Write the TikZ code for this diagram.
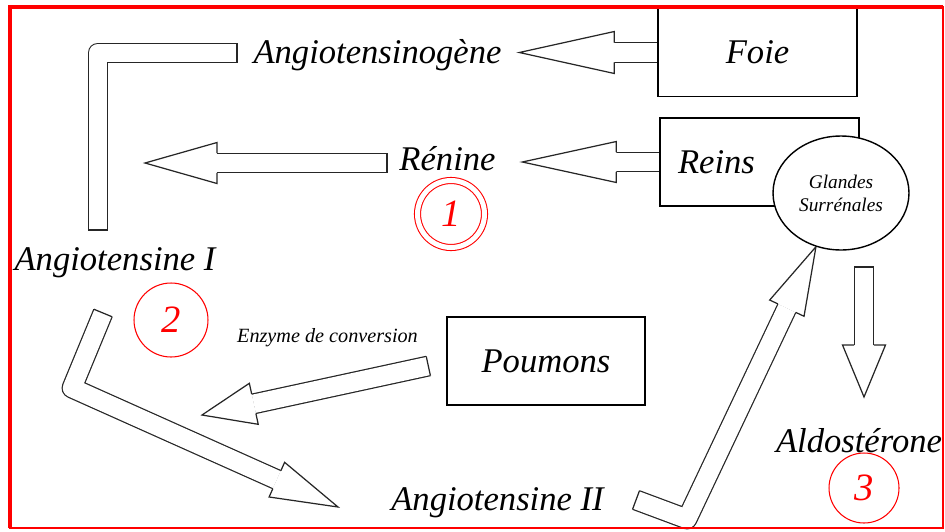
\documentclass[tikz,border=0pt]{standalone}
\usepackage{fontspec}
\setmainfont{Liberation Serif}
\usepackage{tikz}
\usetikzlibrary{calc,positioning,shapes.geometric,backgrounds}
\newcommand{\tubecolor}{black!85}
\newcommand{\thickness}{0.7pt}
\newcommand{\tubewidth}{0.37cm}
\newcommand{\halftube}{0.197cm}
\newcommand{\tubecap}[2]{\draw[tubeline] ($(#1)!\halftube!90:(#2)$) -- ($(#1)!\halftube!-90:(#2)$);}
\newcommand{\tubehead}[3]{\filldraw[tubeline, fill=white] ($(#1)!\halftube!90:(#2)$) -- ($(#1)!#3!90:(#2)$) -- (#2) -- ($(#1)!#3!-90:(#2)$) -- ($(#1)!\halftube!-90:(#2)$);}

\begin{document}
\begin{tikzpicture}[x=0.02cm, y=-0.02cm,
  molecule/.style={font=\fontsize{19.7}{23}\selectfont\itshape, inner sep=0pt, anchor=base},
  note/.style={font=\fontsize{11.5}{13}\selectfont\itshape, inner sep=0pt, anchor=base},
  organ/.style={draw, line width=0.8pt, minimum width=3.98cm, minimum height=1.76cm, inner sep=0pt, font=\fontsize{19.7}{23}\selectfont\itshape},
  stage/.style={circle, draw=red, line width=0.6pt, text=red, inner sep=0pt, font=\fontsize{22}{24}\selectfont\itshape},
  tube/.style={draw=\tubecolor, line width=\thickness, double=white, double distance=\tubewidth, line join=round},
  tubeline/.style={draw=\tubecolor, line width=\thickness, line join=miter},
  frame/.style={draw=red}]
\useasboundingbox (0,0) rectangle (945,531);
% organes
\node[organ] (foie) at (757.5,52.5) {Foie};
\node[organ, text width=3.26cm, align=left, inner xsep=0.36cm] (reins) at (759.5,162) {Reins};
\node[organ, minimum width=3.96cm] (poumons) at (546,361) {Poumons};
\node[ellipse, draw, line width=0.8pt, fill=white, minimum width=2.72cm, minimum height=2.28cm, inner sep=0pt, align=center, font=\fontsize{11}{13}\selectfont\itshape] (glandes) at (841,193) {Glandes\\Surrénales};
% molecules
\node[molecule] (agn) at (377.5,63) {Angiotensinogène};
\node[molecule] (renine) at (447.5,170) {Rénine};
\node[molecule] (ang1) at (115,270) {Angiotensine I};
\node[molecule] (ang2) at (497.5,510) {Angiotensine II};
\node[molecule] (aldo) at (859,452) {Aldostérone};
\node[note] (eca) at (327.5,342) {Enzyme de conversion};
% etapes
\node[stage, double, double distance=0.1cm, minimum size=1.34cm] (s1) at (451,214) {1};
\node[stage, minimum size=1.48cm] (s2) at (171,320) {2};
\node[stage, minimum size=1.4cm] (s3) at (864,488) {3};
%fleches
\begin{scope}[on background layer]
%foie
\coordinate (agnTip) at ($(foie.west)+(-138,0)$);
\coordinate (agnBase) at ($(agnTip)!1.9cm!(foie.west)$);
\draw[tube] (foie.west) -- (agnBase);
\tubehead{agnBase}{agnTip}{0.42cm}
%reins
\coordinate (renTip) at ($(reins.west)+(-137,0)$);
\coordinate (renBase) at ($(renTip)!1.88cm!(reins.west)$);
\draw[tube] (reins.west) -- (renBase);
\tubehead{renBase}{renTip}{0.41cm}
%renine
\coordinate (reTail) at (387,163);
\coordinate (reTip) at (145,163);
\coordinate (reBase) at ($(reTip)!1.44cm!(reTail)$);
\draw[tube] (reTail) -- (reBase);
\tubecap{reTail}{reTip}
\tubehead{reBase}{reTip}{0.41cm}
%angiotensinogene
\coordinate (lTop) at (237,53);
\coordinate (lCorner) at (98,53);
\coordinate (lEnd) at (98,230);
\draw[tube] (lTop) -- (lCorner) -- (lEnd);
\tubecap{lTop}{lCorner}
\tubecap{lEnd}{lCorner}
%angiotensine I
\coordinate (aStart) at (103,313);
\coordinate (aCorner) at (72,388);
\coordinate (aTip) at (338,507);
\coordinate (aBase) at ($(aTip)!1.34cm!(aCorner)$);
\draw[tube] (aStart) -- (aCorner) -- (aBase);
\tubecap{aStart}{aCorner}
\tubehead{aBase}{aTip}{0.38cm}
%poumons
\coordinate (eTail) at ($(poumons.west)+(-18,5)$);
\coordinate (eTip) at (202,415);
\coordinate (eBase) at ($(eTip)!1.06cm!(eTail)$);
\draw[tube] (eTail) -- (eBase);
\tubecap{eTail}{eTip}
\tubehead{eBase}{eTip}{0.42cm}
%angiotensine II
\coordinate (bStart) at (636,500);
\coordinate (bCorner) at (687,519);
\coordinate (bBase) at ($(glandes.-115)!1.36cm!(bCorner)$);
\draw[tube] (bStart) -- (bCorner) -- (bBase);
\tubecap{bStart}{bCorner}
\tubehead{bBase}{glandes.-115}{0.38cm}
%glandes
\coordinate (gTail) at (864,267);
\coordinate (gTip) at (864,397);
\coordinate (gBase) at ($(gTip)!1.04cm!(gTail)$);
\draw[tube] (gTail) -- (gBase);
\tubecap{gTail}{gTip}
\tubehead{gBase}{gTip}{0.43cm}
\end{scope}
% cadre
\draw[frame, line width=0.8pt] (10,7) rectangle (943,528);
\draw[frame, line width=2.2pt] (10,528) -- (10,7) -- (943,7);
\end{tikzpicture}
\end{document}
